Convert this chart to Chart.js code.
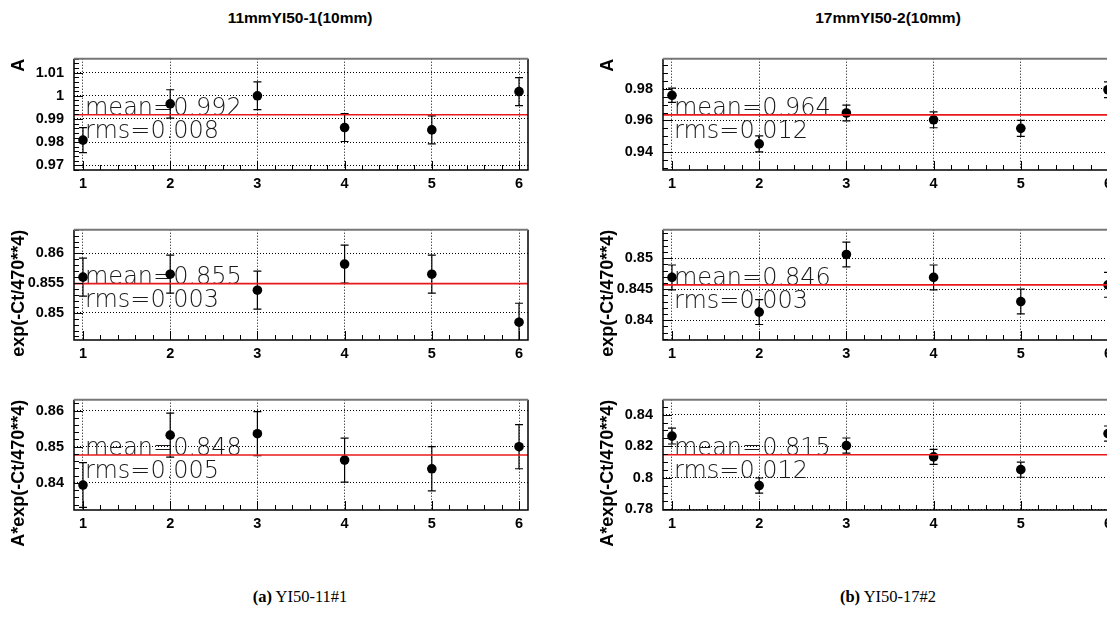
<!DOCTYPE html>
<html>
<head>
<meta charset="utf-8">
<script src="https://cdn.jsdelivr.net/npm/chart.js@4.4.1/dist/chart.umd.min.js"></script>
<style>
  body { margin: 0; background: #fff; overflow: hidden; width: 1107px; height: 637px; position: relative; }
  canvas { position: absolute; }
  .title { position: absolute; top: 9px; width: 300px; text-align: center; font: bold 15.5px "Liberation Sans", Arial, sans-serif; color: #000; }
  .caption { position: absolute; top: 587px; width: 300px; text-align: center; font: 16.5px "Liberation Serif", "Times New Roman", serif; color: #000; }
</style>
</head>
<body>
<div class="title" style="left:150px">11mmYI50-1(10mm)</div>
<div class="title" style="left:738px">17mmYI50-2(10mm)</div>
<div class="caption" style="left:150px"><b>(a)</b> YI50-11#1</div>
<div class="caption" style="left:738px"><b>(b)</b> YI50-17#2</div>
<script>
const runs = [1, 2, 3, 4, 5, 6];

// 11mmYI50-1(10mm)
const a11 = [0.9809, 0.9965, 1.0000, 0.9863, 0.9853, 1.0018];
const a11Err = [0.0054, 0.0061, 0.0060, 0.0060, 0.0060, 0.0060];
const exp11 = [0.8560, 0.8565, 0.8538, 0.8582, 0.8565, 0.8484];
const exp11Err = [0.0032, 0.0032, 0.0032, 0.0032, 0.0032, 0.0032];
const aexp11 = [0.8394, 0.8532, 0.8536, 0.8463, 0.8439, 0.8500];
const aexp11Err = [0.0062, 0.0061, 0.0061, 0.0061, 0.0061, 0.0061];

// 17mmYI50-2(10mm)
const a17 = [0.9759, 0.9452, 0.9647, 0.9604, 0.9550, 0.9794];
const a17Err = [0.0045, 0.0050, 0.0050, 0.0050, 0.0050, 0.0050];
const exp17 = [0.8469, 0.8413, 0.8506, 0.8469, 0.8430, 0.8457];
const exp17Err = [0.0020, 0.0020, 0.0020, 0.0020, 0.0020, 0.0020];
const aexp17 = [0.8264, 0.7950, 0.8204, 0.8132, 0.8051, 0.8280];
const aexp17Err = [0.0050, 0.0048, 0.0048, 0.0048, 0.0048, 0.0048];

// mean lines and their labels
const means11 = [0.9918, 0.8549, 0.8477];
const means17 = [0.9635, 0.8457, 0.8146];
const meanText11 = ['mean=0.992', 'mean=0.855', 'mean=0.848'];
const rmsText11 = ['rms=0.008', 'rms=0.003', 'rms=0.005'];
const meanText17 = ['mean=0.964', 'mean=0.846', 'mean=0.815'];
const rmsText17 = ['rms=0.012', 'rms=0.003', 'rms=0.012'];

// tick labels
const a11Ticks = ['0.97', '0.98', '0.99', '1', '1.01'];
const exp11Ticks = ['0.85', '0.855', '0.86'];
const aexp11Ticks = ['0.84', '0.85', '0.86'];
const a17Ticks = ['0.94', '0.96', '0.98'];
const exp17Ticks = ['0.84', '0.845', '0.85'];
const aexp17Ticks = ['0.78', '0.8', '0.82', '0.84'];

const X_MIN = 0.897, X_MAX = 6.103;
const tickFont = { family: '"Liberation Sans", Arial, sans-serif', weight: 'bold', size: 14.5 };

// frame, inside tick marks and the mean / rms text
const decor = {
  id: 'decor',
  beforeDatasetsDraw(chart, args, opts) {
    const { ctx, scales: { x, y } } = chart;
    ctx.save();
    ctx.font = '200 24px "DejaVu Sans", sans-serif';
    ctx.fillStyle = '#1a1a1a';
    ctx.textBaseline = 'alphabetic';
    const px = x.getPixelForValue(1) + 2;
    const py = y.getPixelForValue(opts.mean);
    ctx.fillText(opts.meanText, px, py);
    ctx.fillText(opts.rmsText, px, py + 23);
    ctx.restore();
  },
  afterDraw(chart, args, opts) {
    const { ctx, chartArea: a, scales: { x, y } } = chart;
    ctx.save();
    ctx.strokeStyle = '#000';
    ctx.lineWidth = 1;
    ctx.beginPath();
    // x ticks every 0.2, longer at integers
    for (let k = 5; k <= 30; k++) {
      const v = k / 5;
      if (v < X_MIN || v > X_MAX) continue;
      const px = Math.round(x.getPixelForValue(v)) + 0.5;
      const len = k % 5 === 0 ? 9 : 5;
      ctx.moveTo(px, a.bottom);
      ctx.lineTo(px, a.bottom - len);
    }
    // y ticks
    const step = opts.step, minor = step / opts.minor;
    const first = parseFloat(opts.ticks[0]);
    for (let i = -opts.minor; i <= (opts.ticks.length + 1) * opts.minor; i++) {
      const v = first + i * minor;
      if (v < y.min || v > y.max) continue;
      const py = Math.round(y.getPixelForValue(v)) + 0.5;
      const len = i % opts.minor === 0 ? 9 : 5;
      ctx.moveTo(a.left, py);
      ctx.lineTo(a.left + len, py);
    }
    ctx.stroke();

    ctx.lineWidth = 1.5;
    ctx.beginPath();
    ctx.moveTo(a.left, a.top);
    ctx.lineTo(a.left, a.bottom);
    ctx.lineTo(a.right, a.bottom);
    ctx.lineTo(a.right, a.top);
    ctx.stroke();
    ctx.strokeStyle = '#777';
    ctx.lineWidth = 2;
    ctx.beginPath();
    ctx.moveTo(a.left, a.top);
    ctx.lineTo(a.right, a.top);
    ctx.stroke();
    ctx.restore();
  }
};

function makePanel(left, top, plotH, vals, errs, mean, meanText, rmsText, yTicks, yMin, yMax, step, minor, yTitle) {
  const canvas = document.createElement('canvas');
  canvas.width = 540;
  canvas.height = 16 + plotH + 30 + 12;
  canvas.style.left = left + 'px';
  canvas.style.top = top + 'px';
  document.body.appendChild(canvas);

  const stems = [];
  const caps = [];
  runs.forEach((x, i) => {
    stems.push({ x: x, y: vals[i] - errs[i] }, { x: x, y: vals[i] + errs[i] }, { x: x, y: null });
    caps.push({ x: x, y: vals[i] - errs[i] }, { x: x, y: vals[i] + errs[i] });
  });

  new Chart(canvas, {
    type: 'scatter',
    data: {
      datasets: [
        {
          data: [{ x: X_MIN, y: mean }, { x: X_MAX, y: mean }],
          showLine: true, borderColor: '#e8191b', borderWidth: 1.6, pointRadius: 0
        },
        {
          data: runs.map((x, i) => ({ x: x, y: vals[i] })),
          pointRadius: 4.8, pointBackgroundColor: '#000', pointBorderWidth: 0
        },
        {
          data: caps,
          pointStyle: 'line', pointRadius: 4, pointBorderColor: '#000', pointBorderWidth: 1.2
        },
        {
          data: stems,
          showLine: true, spanGaps: false, borderColor: '#000', borderWidth: 1.2, pointRadius: 0
        }
      ]
    },
    options: {
      responsive: false,
      animation: false,
      devicePixelRatio: 1,
      events: [],
      layout: { padding: { left: 0, top: 16, right: 12, bottom: 12 } },
      plugins: {
        legend: { display: false },
        tooltip: { enabled: false },
        decor: { mean: mean, meanText: meanText, rmsText: rmsText, ticks: yTicks, step: step, minor: minor }
      },
      scales: {
        x: {
          type: 'linear',
          min: X_MIN,
          max: X_MAX,
          afterBuildTicks: s => { s.ticks = runs.map(v => ({ value: v })); },
          afterFit: s => { s.height = 30; },
          ticks: { font: tickFont, color: '#000', padding: 5, maxRotation: 0, autoSkip: false, callback: v => String(v) },
          grid: { color: '#000', lineWidth: 1, drawTicks: false },
          border: { display: false, dash: [1, 2] }
        },
        y: {
          type: 'linear',
          min: yMin,
          max: yMax,
          afterBuildTicks: s => { s.ticks = yTicks.map(t => ({ value: parseFloat(t) })); },
          afterFit: s => { s.width = 74; },
          ticks: { font: tickFont, color: '#000', padding: 10, autoSkip: false, callback: (v, i) => yTicks[i] },
          grid: { color: '#000', lineWidth: 1, drawTicks: false },
          border: { display: false, dash: [1, 2] },
          title: {
            display: true, text: yTitle, align: 'end', color: '#000',
            font: { family: '"Liberation Sans", Arial, sans-serif', weight: 'bold', size: 18 },
            padding: { top: 8, bottom: 0 }
          }
        }
      }
    },
    plugins: [decor]
  });
}

const rowTop = [40, 211, 381];
const rowH = [114, 113, 113];
const titles = ['A', 'exp(-Ct/470**4)', 'A*exp(-Ct/470**4)'];

makePanel(0, rowTop[0], rowH[0], a11, a11Err, means11[0], meanText11[0], rmsText11[0], a11Ticks, 0.968, 1.016, 0.01, 5, titles[0]);
makePanel(0, rowTop[1], rowH[1], exp11, exp11Err, means11[1], meanText11[1], rmsText11[1], exp11Ticks, 0.8454, 0.864, 0.005, 5, titles[1]);
makePanel(0, rowTop[2], rowH[2], aexp11, aexp11Err, means11[2], meanText11[2], rmsText11[2], aexp11Ticks, 0.8325, 0.863, 0.01, 5, titles[2]);

makePanel(589, rowTop[0], rowH[0], a17, a17Err, means17[0], meanText17[0], rmsText17[0], a17Ticks, 0.9287, 0.999, 0.02, 4, titles[0]);
makePanel(589, rowTop[1], rowH[1], exp17, exp17Err, means17[1], meanText17[1], rmsText17[1], exp17Ticks, 0.8368, 0.8546, 0.005, 5, titles[1]);
makePanel(589, rowTop[2], rowH[2], aexp17, aexp17Err, means17[2], meanText17[2], rmsText17[2], aexp17Ticks, 0.7795, 0.8495, 0.02, 4, titles[2]);
</script>
</body>
</html>
